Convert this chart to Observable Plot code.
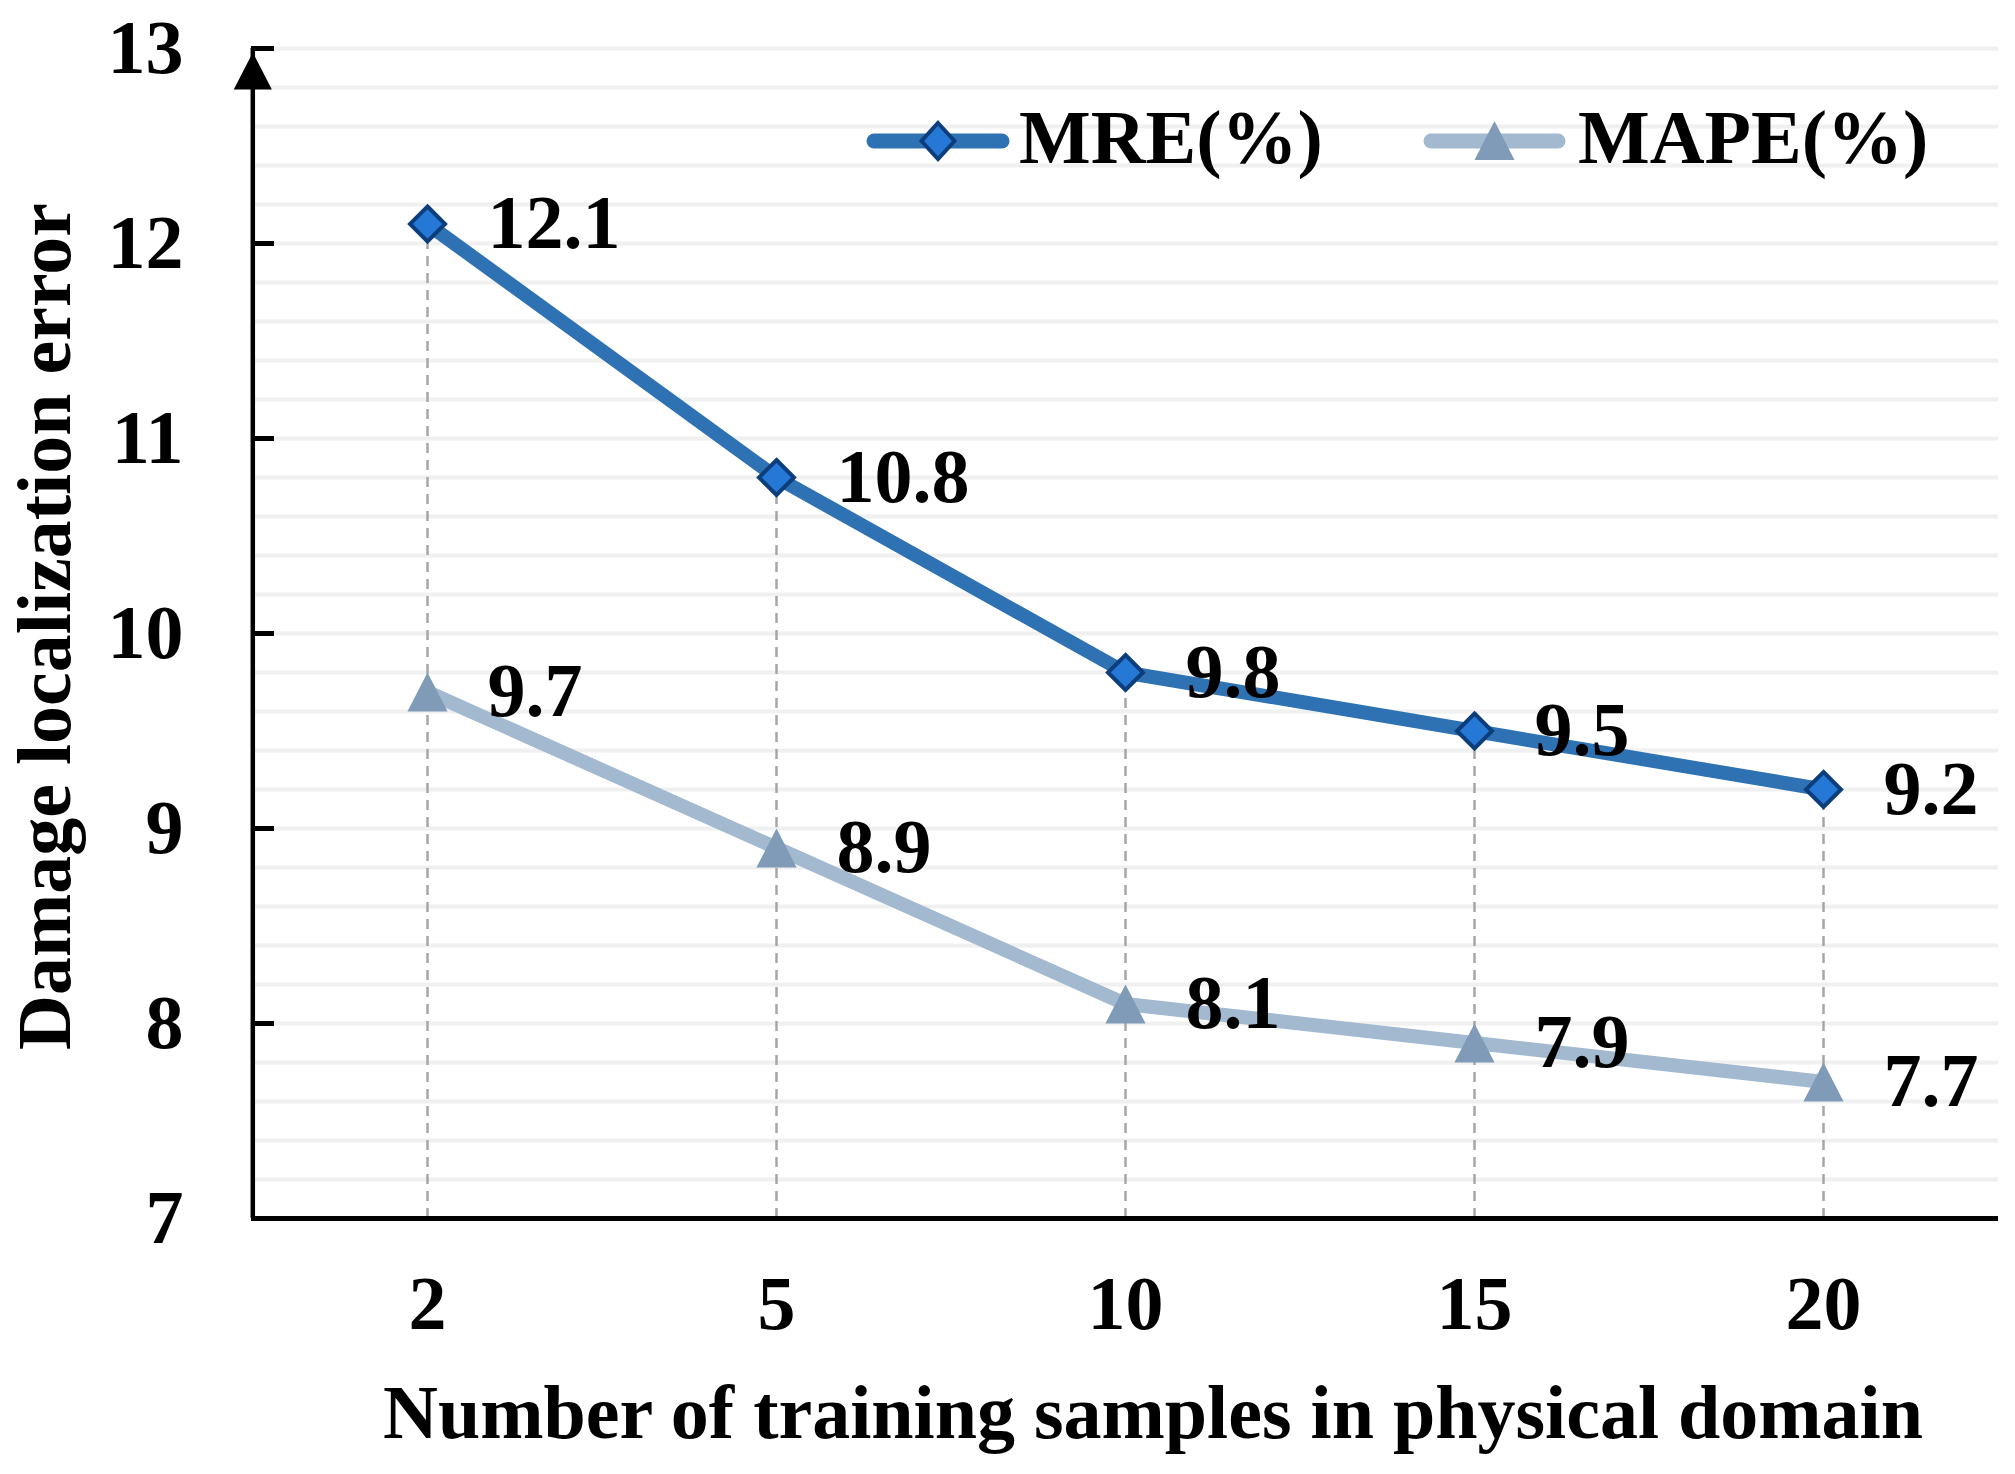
<!DOCTYPE html>
<html><head><meta charset="utf-8">
<script src="https://cdn.jsdelivr.net/npm/d3@7"></script>
<script src="https://cdn.jsdelivr.net/npm/@observablehq/plot@0.6"></script>
<style>body{margin:0;background:#fff;} #chart{width:2015px;height:1474px;}</style>
</head><body><div id="chart"></div>
<script>
const samples = ["2", "5", "10", "15", "20"];
const mre = [12.1, 10.8, 9.8, 9.5, 9.2];
const mape = [9.7, 8.9, 8.1, 7.9, 7.7];
const yTicks = [7, 8, 9, 10, 11, 12, 13];
const seriesNames = ["MRE(%)", "MAPE(%)"];
const xLabel = "Number of training samples in physical domain";
const yLabel = "Damage localization error";

const rows = samples.map((s, i) => ({n: s, mre: mre[i], mape: mape[i]}));
const gridVals = d3.range(36, 66).map(d => d / 5);

const W = 2015, H = 1474, mL = 251, mR = 17, mT = 48, mB = 256;
const font = "'Liberation Serif','Times New Roman',Times,serif";
const colMRE = "#2f72b4", colMREfill = "#2678d6", colMREstroke = "#0d3e7c";
const colMAPE = "#a3b9d0", colMAPEmark = "#7f9bb8";

const xs = Plot.scale({x: {type: "point", domain: samples, padding: 0.5, range: [mL, W - mR]}});
const halfStep = xs.apply(samples[0]) - mL;

const diamond = {draw(ctx, size) { const r = Math.sqrt(size / Math.PI); ctx.moveTo(0, -r); ctx.lineTo(r, 0); ctx.lineTo(0, r); ctx.lineTo(-r, 0); ctx.closePath(); }};
const triangle = {draw(ctx, size) { const r = Math.sqrt(size / Math.PI); ctx.moveTo(0, -r); ctx.lineTo(r * 1.03, r); ctx.lineTo(-r * 1.03, r); ctx.closePath(); }};

const svg = Plot.plot({
  width: W, height: H,
  marginLeft: mL, marginRight: mR, marginTop: mT, marginBottom: mB,
  style: {fontFamily: font, fontSize: "76px", fontWeight: "bold", color: "black", background: "white"},
  x: {type: "point", domain: samples, padding: 0.5, label: null},
  y: {domain: [7, 13], label: null},
  marks: [
    Plot.ruleY(gridVals, {stroke: "#f0f0f0", strokeWidth: 4}),
    Plot.ruleX(rows, {x: "n", y1: 7, y2: "mre", stroke: "#a6a6a6", strokeWidth: 2.5, strokeDasharray: "10,7"}),
    Plot.line(rows, {x: "n", y: "mape", stroke: colMAPE, strokeWidth: 14}),
    Plot.line(rows, {x: "n", y: "mre", stroke: colMRE, strokeWidth: 14}),
    Plot.dot(rows, {x: "n", y: "mape", symbol: triangle, r: 19.5, fill: colMAPEmark, stroke: null}),
    Plot.dot(rows, {x: "n", y: "mre", symbol: diamond, r: 17.5, fill: colMREfill, stroke: colMREstroke, strokeWidth: 4}),
    Plot.text(rows, {x: "n", y: "mre", text: d => d.mre.toFixed(1), dx: 60, textAnchor: "start", fontSize: 76, fontWeight: "bold", fill: "black"}),
    Plot.text(rows, {x: "n", y: "mape", text: d => d.mape.toFixed(1), dx: 60, textAnchor: "start", fontSize: 76, fontWeight: "bold", fill: "black"}),
    Plot.ruleY([7], {stroke: "black", strokeWidth: 5}),
    Plot.ruleX([samples[0]], {x: d => d, y1: 7, y2: 13, dx: -halfStep, stroke: "black", strokeWidth: 4.5}),
    Plot.dot([{n: samples[0], v: 12.885}], {x: "n", y: "v", dx: -halfStep, symbol: triangle, r: 18.5, fill: "black", stroke: null}),
    Plot.axisY({ticks: yTicks, tickFormat: d => String(d), anchor: "left", tickSize: -23, tickPadding: 91, strokeWidth: 5, fontSize: 76, fontWeight: "bold", label: null}),
    Plot.axisX({tickSize: 0, tickPadding: 57, fontSize: 76, fontWeight: "bold", label: null}),
    Plot.text([yLabel], {text: d => d, frameAnchor: "left", textAnchor: "middle", lineAnchor: "middle", rotate: -90, dx: -206, dy: -7, fontSize: 76, fontWeight: "bold", fill: "black"}),
    Plot.text([xLabel], {text: d => d, frameAnchor: "bottom", textAnchor: "middle", lineAnchor: "middle", dx: 28, dy: 195, fontSize: 76, fontWeight: "bold", fill: "black"})
  ]
});

// legend inside the plot area
const g = d3.select(svg).append("g").attr("font-family", font).attr("font-size", 76).attr("font-weight", "bold").attr("text-anchor", "start");
const legendItems = [
  {name: seriesNames[0], x0: 867, x1: 1009, tx: 1019, line: colMRE, sym: "diamond"},
  {name: seriesNames[1], x0: 1424, x1: 1565, tx: 1578, line: colMAPE, sym: "triangle"}
];
const ly = 141;
legendItems.forEach(it => {
  g.append("line").attr("x1", it.x0 + 7).attr("x2", it.x1 - 7).attr("y1", ly).attr("y2", ly)
    .attr("stroke", it.line).attr("stroke-width", 15).attr("stroke-linecap", "round");
  const cx = (it.x0 + it.x1) / 2;
  if (it.sym === "diamond") {
    g.append("path").attr("d", `M${cx},${ly - 18}L${cx + 16.5},${ly}L${cx},${ly + 18}L${cx - 16.5},${ly}Z`)
      .attr("fill", colMREfill).attr("stroke", colMREstroke).attr("stroke-width", 4);
  } else {
    g.append("path").attr("d", `M${cx},${ly - 20}L${cx + 20},${ly + 19}L${cx - 20},${ly + 19}Z`).attr("fill", colMAPEmark);
  }
  g.append("text").attr("x", it.tx).attr("y", 163).attr("text-anchor", "start").attr("fill", "black").text(it.name);
});

document.getElementById("chart").appendChild(svg);
</script>
</body></html>
